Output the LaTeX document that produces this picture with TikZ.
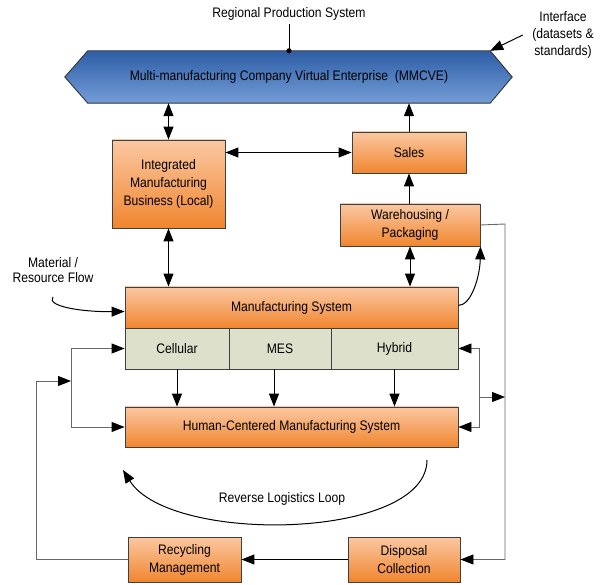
\documentclass[tikz,border=0pt]{standalone}
\usepackage{fontspec}
\setmainfont{Liberation Sans}[FakeStretch=0.88]
\usetikzlibrary{arrows.meta,shadows}
\definecolor{orTop}{HTML}{FBC8A2}
\definecolor{orBot}{HTML}{F0862F}
\definecolor{blTop}{HTML}{2E5DA5}
\definecolor{blBot}{HTML}{749ED8}
\definecolor{modeGreen}{HTML}{DDE1CB}
\tikzset{
	orbox/.style={
			draw=black!75, line width=0.9pt, top color=orTop, bottom color=orBot,
			inner sep=0pt, align=center,
			drop shadow={shadow xshift=1.2pt, shadow yshift=-1.2pt, opacity=0.45}
		},
	mode/.style={draw=black!75, line width=0.9pt, fill=modeGreen, inner sep=0pt}
}

\begin{document}
\begin{tikzpicture}[x=1pt,y=-1pt,font=\fontsize{13.8}{18}\selectfont,
		arr/.style={-{Triangle[length=13pt,width=10pt]}, line width=1pt},
		dbl/.style={{Triangle[length=13pt,width=10pt]}-{Triangle[length=13pt,width=10pt]}, line width=1pt},
		loop/.style={-{Triangle[length=13pt,width=10pt,color=black]}, draw=black!60, line width=0.9pt}]
	\useasboundingbox (0,0) rectangle (603,585);

	% virtual enterprise banner
	\node[minimum width=402pt, minimum height=52pt, inner sep=0pt] (mmcve) at (289,77) {};
	\shadedraw[top color=blTop, bottom color=blBot, draw=black!80, line width=0.9pt]
	(mmcve.north west) -- (mmcve.north east) -- ([xshift=22pt]mmcve.east)
	-- (mmcve.south east) -- (mmcve.south west) -- ([xshift=-23pt]mmcve.west) -- cycle;
	\node at (mmcve) {Multi-manufacturing Company Virtual Enterprise\ \ (MMCVE)};

	% labels
	\node (rps) at (289,14) {Regional Production System};
	\node[align=center, font=\fontsize{13.8}{17}\selectfont] (intf) at (563,35) {Interface\\(datasets \&\\standards)};
	\node[align=center, font=\fontsize{13.8}{15.5}\selectfont] (mat) at (53,270) {Material /\\Resource Flow};
	\node (rll) at (282,499) {Reverse Logistics Loop};

	% boxes
	\node[orbox, minimum width=113pt, minimum height=88pt] (imb) at (168.5,184) {Integrated\\Manufacturing\\Business (Local)};
	\node[orbox, minimum width=114pt, minimum height=41pt] (sales) at (409,152.5) {Sales};
	\node[orbox, minimum width=140pt, minimum height=42pt] (wh) at (410,225) {Warehousing /\\Packaging};
	\node[orbox, minimum width=333pt, minimum height=41pt] (ms) at (291.5,307.5) {Manufacturing System};
	\node[mode, minimum width=104pt, minimum height=41pt] (cellular) at (177,348.5) {Cellular};
	\node[mode, minimum width=102pt, minimum height=41pt] (mes) at (280,348.5) {MES};
	\node[mode, minimum width=127pt, minimum height=41pt] (hybrid) at (394.5,348.5) {Hybrid};
	\node[orbox, minimum width=333pt, minimum height=40pt] (hcms) at (291.5,427) {Human-Centered Manufacturing System};
	\node[orbox, minimum width=113pt, minimum height=45pt] (rec) at (184.5,559.5) {Recycling\\Management};
	\node[orbox, minimum width=112pt, minimum height=45pt] (disp) at (404,559.5) {Disposal\\Collection};

	% top links
	\draw[line width=1pt] (rps.south) -- (rps.south |- mmcve.north);
	\fill (rps.south |- mmcve.north) circle (2.6pt);
	\draw[arr] ([xshift=-6pt]intf.west) -- (mmcve.north east);
	\draw[dbl] (imb.north) -- (imb.north |- mmcve.south);
	\draw[arr] (sales.north) -- (sales.north |- mmcve.south);
	\draw[dbl] (imb.east |- sales.west) -- (sales.west);
	\draw[arr] (sales.south |- wh.north) -- (sales.south);
	\draw[dbl] (imb.south) -- (imb.south |- ms.north);
	\draw[dbl] (wh.south) -- (wh.south |- ms.north);
	\draw[arr] ([yshift=2pt]ms.east) .. controls (472,305) and (480,275) .. (wh.south east);

	% material input
	\coordinate (matIn) at (53,297);
	\draw[arr] (matIn) .. controls (46,306) and (80,312) .. ([yshift=-4pt]ms.west);

	% modes into human-centered system
	\draw[arr] (cellular.south) -- (cellular.south |- hcms.north);
	\draw[arr] ([xshift=-6pt]mes.south) -- ([xshift=-6pt]mes.south |- hcms.north);
	\draw[arr] (hybrid.south) -- (hybrid.south |- hcms.north);

	% right side
	\coordinate (rbus) at (505,224);
	\coordinate (rj) at (479,397);
	\draw[loop] (wh.east) -- (rbus) |- (disp.east);
	\draw[loop] (rj) |- (hybrid.east);
	\draw[loop] (rj) |- (hcms.east);
	\draw[loop] (rj) -- (rj -| rbus);

	% left side
	\coordinate (lj) at (71,381);
	\draw[loop] (lj) |- (cellular.west);
	\draw[loop] (lj) |- (hcms.west);
	\draw[loop] (rec.west) -- ++(-91,0) |- (lj);
	\draw[arr] (disp.west) -- (rec.east);

	% reverse logistics
	\coordinate (rlStart) at (427,460);
	\coordinate (rlEnd) at (123,470);
	\draw[arr] (rlStart) .. controls (427,540) and (170,545) .. (rlEnd);
\end{tikzpicture}
\end{document}
